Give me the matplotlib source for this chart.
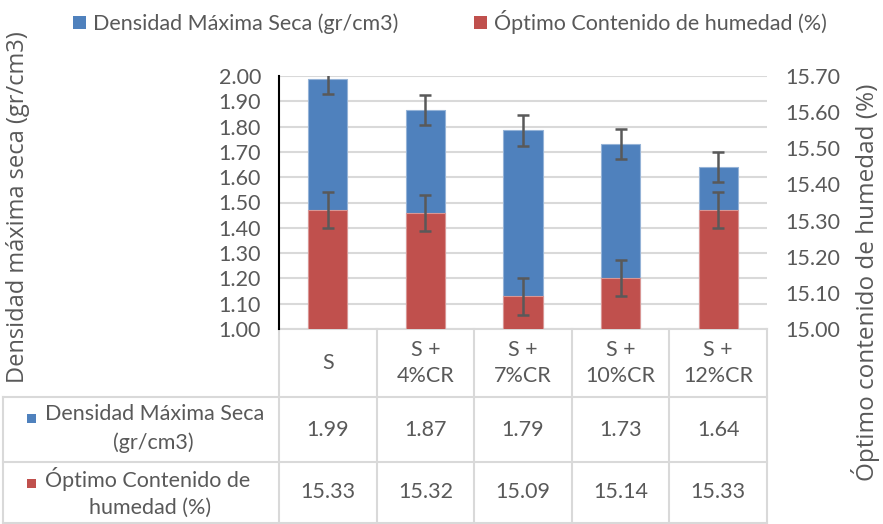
import matplotlib
matplotlib.use("Agg")
import matplotlib.pyplot as plt
from matplotlib.patches import Patch, Rectangle
from matplotlib.transforms import blended_transform_factory

# data
categories = ["S", "S +\n4%CR", "S +\n7%CR", "S +\n10%CR", "S +\n12%CR"]
densidad = [1.99, 1.865, 1.785, 1.73, 1.64]
humedad = [15.33, 15.32, 15.09, 15.14, 15.33]
densidad_txt = ["1.99", "1.87", "1.79", "1.73", "1.64"]
humedad_txt = ["15.33", "15.32", "15.09", "15.14", "15.33"]
err_densidad = 0.06
err_humedad = 0.05
left_ticks = [1.0, 1.1, 1.2, 1.3, 1.4, 1.5, 1.6, 1.7, 1.8, 1.9, 2.0]
right_ticks = [15.0, 15.1, 15.2, 15.3, 15.4, 15.5, 15.6, 15.7]

label_den = "Densidad Máxima Seca (gr/cm3)"
label_hum = "Óptimo Contenido de humedad (%)"

BLUE = "#4F81BD"
RED = "#C0504D"
GRID = "#D9D9D9"
TXT = "#595959"
FONT = ["Lato", "DejaVu Sans"]
FS = 15.5

plt.rcParams["font.family"] = FONT

W, H = 883, 524
fig = plt.figure(figsize=(W / 100, H / 100), dpi=100)
ax = fig.add_axes([279 / W, 1 - 329 / H, (767 - 279) / W, (329 - 76) / H])
x = list(range(len(categories)))

ax.bar(x, densidad, width=0.4, color=BLUE, edgecolor="#95B3D7",
       linewidth=0.8, zorder=2)
ax.errorbar(x, densidad, yerr=err_densidad, fmt="none", ecolor=TXT,
            elinewidth=1.8, capsize=4.5, capthick=1.8, zorder=3)
ax.set_xlim(-0.5, len(categories) - 0.5)
ax.set_ylim(1.0, 2.0)
ax.set_yticks(left_ticks)
ax.set_yticklabels([f"{v:.2f}" for v in left_ticks])
ax.set_xticks([])
ax.tick_params(axis="y", length=0, pad=13, labelsize=FS, labelcolor=TXT)
ax.grid(axis="y", color=GRID, linewidth=1.5, zorder=0)
ax.set_axisbelow(True)
for s in ["top", "right", "bottom"]:
    ax.spines[s].set_visible(False)
ax.spines["left"].set_color("black")
ax.spines["left"].set_linewidth(1.5)

ax2 = ax.twinx()
ax2.bar(x, humedad, width=0.4, color=RED, edgecolor="#D99694",
        linewidth=0.8, zorder=2)
ax2.errorbar(x, humedad, yerr=err_humedad, fmt="none", ecolor=TXT,
             elinewidth=1.8, capsize=4.5, capthick=1.8, zorder=3)
ax2.set_ylim(15.0, 15.7)
ax2.set_yticks(right_ticks)
ax2.set_yticklabels([f"{v:.2f}" for v in right_ticks])
ax2.tick_params(axis="y", length=0, pad=13, labelsize=FS, labelcolor=TXT)
for s in ["top", "right", "bottom", "left"]:
    ax2.spines[s].set_visible(False)

# axis titles
title_font = ["Open Sans", "DejaVu Sans"]
fig.text(18 / W, 1 - 207 / H, "Densidad máxima seca (gr/cm3)", rotation=90,
         ha="center", va="center", fontsize=17, color=TXT, family=title_font)
fig.text(866 / W, 1 - 282 / H, "Óptimo contenido de humedad (%)", rotation=90,
         ha="center", va="center", fontsize=17.5, color=TXT, family=title_font)

# legend
handles = [Patch(facecolor=BLUE, label=label_den), Patch(facecolor=RED, label=label_hum)]
fig.legend(handles=handles, loc="center", bbox_to_anchor=(450 / W, 1 - 22 / H), ncol=2,
           frameon=False, fontsize=FS, handlelength=0.6, handleheight=0.6,
           handletextpad=0.35, columnspacing=3.5, labelcolor=TXT)

# data table under the plot
tr = blended_transform_factory(ax.transData, ax.transAxes)
ax_h = 329 - 76


def yfrac(py):
    return (329 - py) / ax_h


fig.canvas.draw()
inv = ax.transData.inverted()
x_left = inv.transform(fig.transFigure.transform((3 / W, 0)))[0]
x_right = len(categories) - 0.5
y_top, y_r1, y_r2, y_bot = yfrac(329), yfrac(397), yfrac(462), yfrac(523)

line_kw = dict(color=GRID, linewidth=1.5, transform=tr, clip_on=False)
ax.plot([-0.5, x_right], [y_top, y_top], **line_kw)
for yy in (y_r1, y_r2, y_bot):
    ax.plot([x_left, x_right], [yy, yy], **line_kw)
for i in range(len(categories) + 1):
    ax.plot([i - 0.5, i - 0.5], [y_top, y_bot], **line_kw)
ax.plot([x_left, x_left], [y_r1, y_bot], **line_kw)

txt_kw = dict(transform=tr, ha="center", va="center", fontsize=FS, color=TXT,
              clip_on=False, linespacing=1.35)
for i, c in enumerate(categories):
    ax.text(i, (y_top + y_r1) / 2, c, **txt_kw)
    ax.text(i, (y_r1 + y_r2) / 2, densidad_txt[i], **txt_kw)
    ax.text(i, (y_r2 + y_bot) / 2, humedad_txt[i], **txt_kw)

# row labels of the table (key square + two lines)
row_kw = dict(va="center", fontsize=FS, color=TXT)
fig.text(45 / W, 1 - 414 / H, "Densidad Máxima Seca", ha="left", **row_kw)
fig.text(153 / W, 1 - 443 / H, "(gr/cm3)", ha="center", **row_kw)
fig.text(45 / W, 1 - 479 / H, "Óptimo Contenido de", ha="left", **row_kw)
fig.text(150 / W, 1 - 508 / H, "humedad (%)", ha="center", **row_kw)
fig.add_artist(Rectangle((27 / W, 1 - 423 / H), 9 / W, 9 / H, facecolor=BLUE,
                         transform=fig.transFigure))
fig.add_artist(Rectangle((27 / W, 1 - 488 / H), 9 / W, 9 / H, facecolor=RED,
                         transform=fig.transFigure))

fig.savefig("out.png", dpi=100)
